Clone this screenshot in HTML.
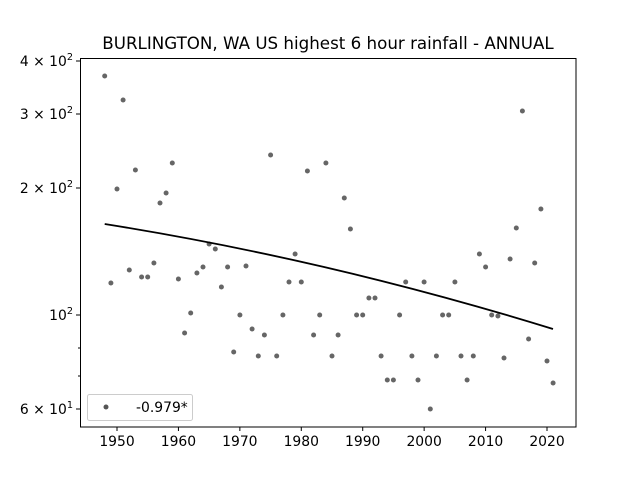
<!DOCTYPE html>
<html><head><style>body{margin:0;background:#fff}svg{display:block}text{font-family:"DejaVu Sans","Liberation Sans",sans-serif;fill:#000}</style></head>
<body>
<svg width="640" height="480" viewBox="0 0 640 480" xmlns="http://www.w3.org/2000/svg">
<rect width="640" height="480" fill="#fff"/>
<text x="328" y="49" font-size="16.7" text-anchor="middle">BURLINGTON, WA US highest 6 hour rainfall - ANNUAL</text>
<g id="pts" fill="#555" fill-opacity="0.9"></g>
<path d="M104.7,224 Q330,260 553,329" fill="none" stroke="#000" stroke-width="1.8"/>
<rect x="80.5" y="58.5" width="495.5" height="368.5" fill="none" stroke="#000" stroke-width="1"/>
<g stroke="#000" stroke-width="1" id="xt"></g>
<g font-size="13.9" text-anchor="middle" id="xl"></g>
<g stroke="#000">
<line x1="76" x2="80" y1="61" y2="61"/><line x1="76" x2="80" y1="114" y2="114"/><line x1="76" x2="80" y1="188" y2="188"/><line x1="76" x2="80" y1="315" y2="315"/><line x1="76" x2="80" y1="409" y2="409"/>
<line x1="78" x2="80" y1="348" y2="348"/><line x1="78" x2="80" y1="376" y2="376"/>
</g>
<g font-size="13.9" text-anchor="end">
<text x="73" y="66">4 × 10<tspan font-size="9.7" dy="-6">2</tspan></text>
<text x="73" y="119">3 × 10<tspan font-size="9.7" dy="-6">2</tspan></text>
<text x="73" y="193">2 × 10<tspan font-size="9.7" dy="-6">2</tspan></text>
<text x="73" y="320">10<tspan font-size="9.7" dy="-6">2</tspan></text>
<text x="73" y="414">6 × 10<tspan font-size="9.7" dy="-6">1</tspan></text>
</g>
<rect x="87.5" y="394.5" width="105" height="26" rx="2" fill="#fff" fill-opacity="0.8" stroke="#ccc"/>
<circle cx="106" cy="407" r="2.5" fill="#555"/>
<text x="136" y="412" font-size="13.9">-0.979*</text>
</svg>
<script>
var ys=[76,283,189,100,270,170,277,277,263,203,193,163,279,333,313,273,267,244,249,287,267,352,315,266,329,356,335,155,356,315,282,254,282,171,335,315,163,356,335,198,229,315,315,298,298,356,380,380,315,282,356,380,282,409,356,315,315,282,356,380,356,254,267,315,316,358,259,228,111,339,263,209,361,383];
var g=document.getElementById('pts'),s='';
ys.forEach(function(y,i){var x=117+(1948+i-1950)*430/70;s+='<circle cx="'+x.toFixed(1)+'" cy="'+y+'" r="2.5"/>';});
g.innerHTML=s;
var t='',l='';
for(var yr=1950;yr<=2020;yr+=10){var x=117+(yr-1950)*430/70;t+='<line x1="'+x+'" x2="'+x+'" y1="427" y2="431"/>';l+='<text x="'+x+'" y="446">'+yr+'</text>';}
document.getElementById('xt').innerHTML=t;document.getElementById('xl').innerHTML=l;
</script>
</body></html>
